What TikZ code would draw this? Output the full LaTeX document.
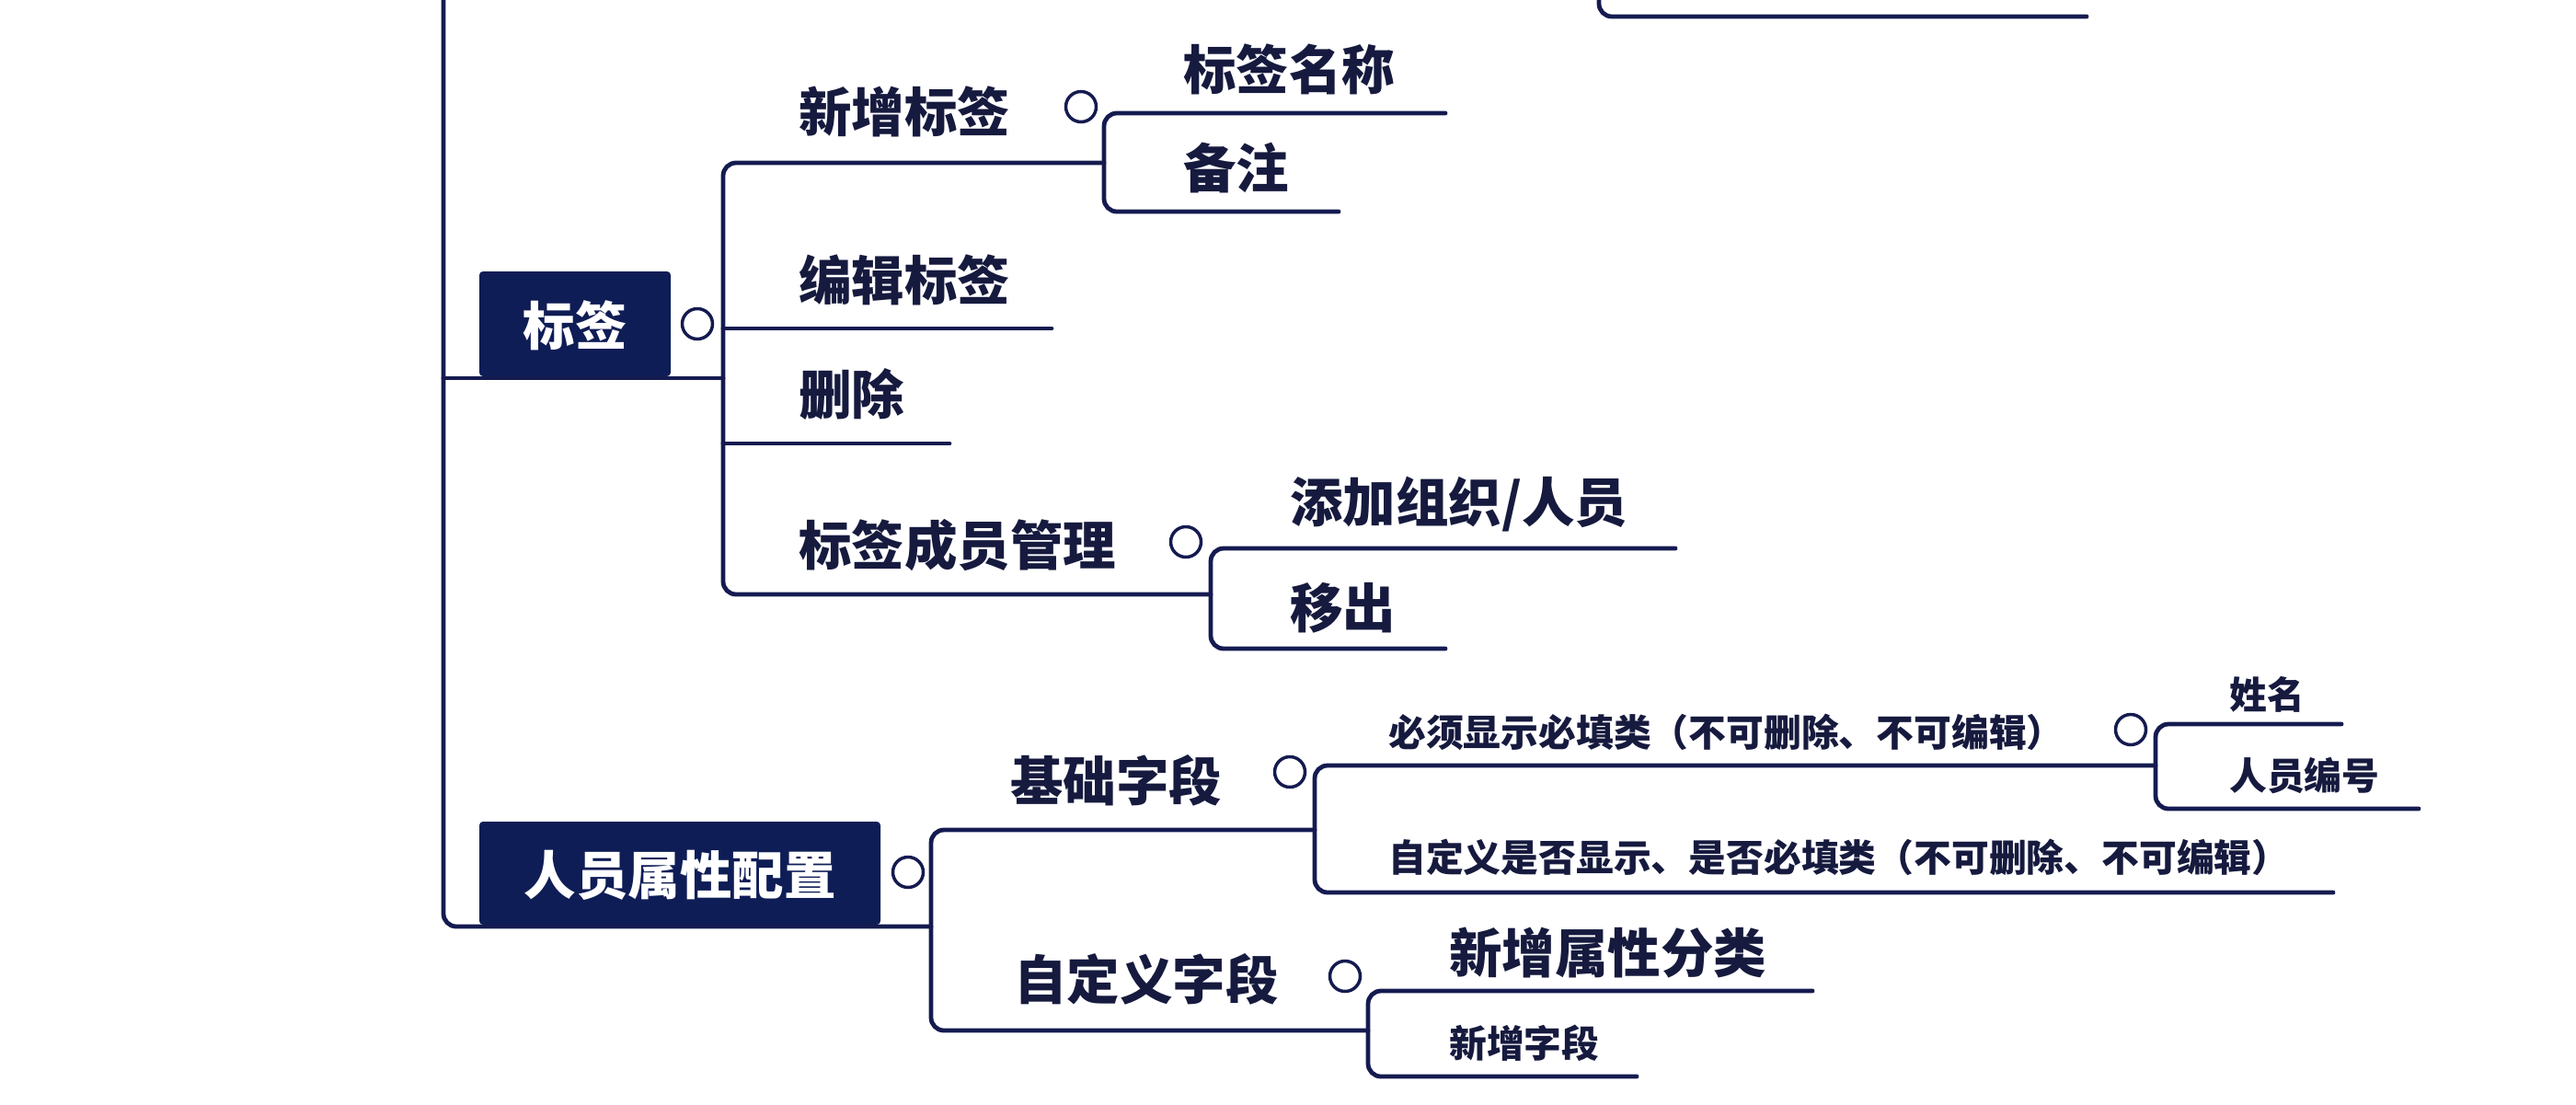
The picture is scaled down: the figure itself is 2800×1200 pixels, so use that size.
\documentclass[tikz,border=0pt]{standalone}
\usepackage{fontspec}
\newfontfamily\cjk{Noto Sans CJK SC}
\definecolor{navy}{HTML}{151B50}
\definecolor{boxc}{HTML}{0F1D56}
\definecolor{txt}{HTML}{161A3E}
\tikzset{
  conn/.style={draw=navy, line width=4.8pt, rounded corners=14pt, line cap=round},
  big/.style={anchor=west, inner sep=0pt, text=txt, font=\cjk\bfseries\fontsize{57.5}{62}\selectfont},
  small/.style={anchor=west, inner sep=0pt, text=txt, font=\cjk\bfseries\fontsize{40.8}{46}\selectfont},
  topbox/.style={draw=none, fill=boxc, rounded corners=4pt, inner sep=0pt, text=white, font=\cjk\bfseries\fontsize{56.5}{62}\selectfont},
  knob/.style={circle, draw=navy, fill=white, line width=3.5pt, minimum size=33pt, inner sep=0pt},
}
\begin{document}
\begin{tikzpicture}[x=1pt,y=-1pt]
\useasboundingbox (0,0) rectangle (2800,1200);

% ---- coordinates
\coordinate (root-top) at (482,-20);
\coordinate (root-b) at (482,1007);
\coordinate (cut-top) at (1738,-20);
\coordinate (cut-c) at (1738,18);
\coordinate (cut-e) at (2268,18);

\coordinate (bq-s) at (482,411);   \coordinate (bq-e) at (786,411);
\coordinate (xzbq-s) at (786,177); \coordinate (xzbq-e) at (1200,177);
\coordinate (bqmc-s) at (1200,123); \coordinate (bqmc-e) at (1571,123);
\coordinate (bz-s) at (1200,230);  \coordinate (bz-e) at (1455,230);
\coordinate (bjbq-s) at (786,357); \coordinate (bjbq-e) at (1143,357);
\coordinate (sc-s) at (786,482);   \coordinate (sc-e) at (1032,482);
\coordinate (cygl-s) at (786,646); \coordinate (cygl-e) at (1316,646);
\coordinate (tj-s) at (1316,596);  \coordinate (tj-e) at (1821,596);
\coordinate (yc-s) at (1316,705);  \coordinate (yc-e) at (1571,705);

\coordinate (ry-e) at (1012,1007);
\coordinate (jc-s) at (1012,902);  \coordinate (jc-e) at (1429,902);
\coordinate (bx-s) at (1429,832);  \coordinate (bx-e) at (2343,832);
\coordinate (xm-s) at (2343,787);  \coordinate (xm-e) at (2545,787);
\coordinate (bh-s) at (2343,879);  \coordinate (bh-e) at (2629,879);
\coordinate (zs-s) at (1429,970);  \coordinate (zs-e) at (2536,970);
\coordinate (zd-s) at (1012,1120); \coordinate (zd-e) at (1487,1120);
\coordinate (fl-s) at (1487,1077); \coordinate (fl-e) at (1970,1077);
\coordinate (xz-s) at (1487,1170); \coordinate (xz-e) at (1779,1170);

% ---- connectors
\draw[conn] (root-top) -- (root-b) -- (ry-e);
\draw[conn] (cut-top) -- (cut-c) -- (cut-e);
\draw[conn] (bq-s) -- (bq-e);
\draw[conn] (xzbq-e) -- (xzbq-s) -- (cygl-s) -- (cygl-e);
\draw[conn] (bjbq-s) -- (bjbq-e);
\draw[conn] (sc-s) -- (sc-e);
\draw[conn] (bqmc-e) -- (bqmc-s) -- (bz-s) -- (bz-e);
\draw[conn] (tj-e) -- (tj-s) -- (yc-s) -- (yc-e);
\draw[conn] (jc-e) -- (jc-s) -- (zd-s) -- (zd-e);
\draw[conn] (bx-e) -- (bx-s) -- (zs-s) -- (zs-e);
\draw[conn] (xm-e) -- (xm-s) -- (bh-s) -- (bh-e);
\draw[conn] (fl-e) -- (fl-s) -- (xz-s) -- (xz-e);

% ---- boxes
\path[topbox] (521,295) rectangle (729,409);
\node[topbox, fill=none] (bq) at (625,354) {标签};
\path[topbox] (521,893) rectangle (957,1005);
\node[topbox, fill=none] (ry) at (739,951) {人员属性配置};

% ---- knobs
\node[knob] (k-bq) at (758,352) {};
\node[knob] (k-xzbq) at (1175,116) {};
\node[knob] (k-cygl) at (1289,589) {};
\node[knob] (k-ry) at (987,948) {};
\node[knob] (k-jc) at (1402,839) {};
\node[knob] (k-bx) at (2316,793) {};
\node[knob] (k-zd) at (1462,1061) {};

% ---- labels
\node[big] (xzbq) at (868,121) {新增标签};
\node[big] (bqmc) at (1286,75) {标签名称};
\node[big] (bz) at (1286,182) {备注};
\node[big] (bjbq) at (868,304) {编辑标签};
\node[big] (sc) at (868,429) {删除};
\node[big] (cygl) at (868,593) {标签成员管理};
\node[big] (tj) at (1402,548) {添加组织/人员};
\node[big] (yc) at (1402,661) {移出};

\node[big] (jc) at (1098,848) {基础字段};
\node[small] (bx) at (1509,796) {必须显示必填类（不可删除、不可编辑）};
\node[small] (xm) at (2423,755) {姓名};
\node[small] (bh) at (2423,843) {人员编号};
\node[small] (zs) at (1509,932) {自定义是否显示、是否必填类（不可删除、不可编辑）};
\node[big] (zd) at (1102,1064) {自定义字段};
\node[big] (fl) at (1575,1036) {新增属性分类};
\node[small] (xz) at (1575,1134) {新增字段};
\end{tikzpicture}
\end{document}
